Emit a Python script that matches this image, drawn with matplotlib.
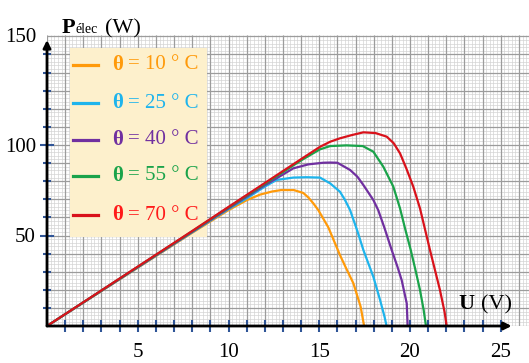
import numpy as np
import matplotlib.pyplot as plt
from matplotlib.patches import Rectangle

plt.rcParams['font.family'] = ['Liberation Serif', 'DejaVu Serif']

# P(U) curves of a solar panel for several temperatures
temps = [10, 25, 40, 55, 70]
colors = ['#FF9A0A', '#1EB4EC', '#7030A0', '#1AA34A', '#D9121B']
text_colors = ['#FF9A0A', '#1EB4EC', '#7030A0', '#1AA34A', '#FF1A1A']

u_10 = [0, 8, 10, 11, 11.74, 12.4, 12.9, 13.6, 14.12, 14.4, 14.67, 14.95,
        15.5, 16.14, 16.5, 16.88, 17.28, 17.47]
p_10 = [0, 51.5, 64, 69.5, 72.6, 74.3, 75.1, 75.1, 73.5, 71, 67.8, 64,
        54.5, 39.2, 31.5, 23.6, 10.7, 0]

u_25 = [0, 8, 10, 11, 12, 12.65, 13.57, 14.3, 15.04, 15.6, 16.14, 16.42,
        16.7, 17.1, 17.43, 17.98, 18.35, 18.6, 18.71]
p_25 = [0, 51.8, 64.6, 70.5, 77, 80.7, 82, 82.2, 82, 78.8, 74.2, 69.6,
        64, 52.5, 42, 27.2, 14.4, 5, 0]

u_40 = [0, 8, 10, 12, 12.8, 13.57, 14.4, 15.22, 15.6, 16.0, 16.7, 17.1,
        17.43, 17.98, 18.25, 18.6, 18.99, 19.3, 19.54, 19.82, 19.87]
p_40 = [0, 52, 65, 77.8, 82.5, 87.1, 89.3, 90.2, 90.3, 90.2, 86.2, 82.5,
        77.9, 69.6, 64, 54, 42, 33, 25.4, 12.5, 0]

u_55 = [0, 8, 10, 12, 13, 14, 15.04, 15.6, 16.5, 17.4, 17.98, 18.53,
        19.08, 19.45, 19.75, 20.04, 20.3, 20.55, 20.75, 20.88]
p_55 = [0, 52.3, 65.5, 78.5, 85, 91.5, 97.6, 99.4, 99.8, 99.4, 96.3, 88,
        77, 65, 53, 42, 31, 19.9, 9, 0]

u_70 = [0, 8, 10, 12, 13, 14, 15.04, 15.6, 16.14, 16.8, 17.43, 18.1,
        18.72, 19.1, 19.45, 19.8, 20.18, 20.55, 21.1, 21.65, 21.9, 22.02]
p_70 = [0, 52.5, 65.8, 79, 85.6, 92.2, 99, 101.8, 103.7, 105.5, 107, 106.6,
        104.6, 101, 95.4, 87, 77, 65, 42, 19.9, 8, 0]

curves = [(u_10, p_10), (u_25, p_25), (u_40, p_40), (u_55, p_55), (u_70, p_70)]

W, H = 529, 363
fig = plt.figure(figsize=(W / 100, H / 100), dpi=100)
ax = fig.add_axes([47 / W, 37 / H, 482 / W, 291 / H])
xmax, ymax = 482 / 18.15, 291 / 1.81
ax.set_xlim(0, xmax)
ax.set_ylim(0, ymax)
for s in ax.spines.values():
    s.set_visible(False)

# graph paper
ax.vlines(np.arange(0, xmax, 0.2), 0, ymax, color='#d4d4d4', lw=0.5, zorder=0)
ax.hlines(np.arange(0, ymax, 2), 0, xmax, color='#d4d4d4', lw=0.5, zorder=0)
ax.vlines(np.arange(0, xmax, 1), 0, ymax, color='#9c9c9c', lw=0.9, zorder=0)
ax.hlines(np.arange(0, ymax, 10), 0, xmax, color='#9c9c9c', lw=0.9, zorder=0)

# legend box
ax.add_patch(Rectangle((1.27, 49.2), 7.55, 104.4, facecolor='#FDF0CC',
                       edgecolor='none', zorder=1))
rows = [144.2, 123.2, 102.8, 82.9, 61.3]
for t, c, tc, y in zip(temps, colors, text_colors, rows):
    ax.plot([1.43, 2.81], [y, y], color=c, lw=2.3, zorder=2)
    ax.text(3.58, y, 'θ', color=tc, fontsize=15, fontweight='bold',
            va='center', ha='left', zorder=2)
    ax.text(4.45, y, f'= {t} ° C', color=tc, fontsize=15,
            va='center', ha='left', zorder=2)

for (u, p), c in zip(curves, colors):
    ax.plot(u, p, color=c, lw=1.6, zorder=3, solid_joinstyle='round')

# axes with arrows
ax.annotate('', xy=(0, 158), xytext=(0, 0), annotation_clip=False,
            arrowprops=dict(arrowstyle='-|>', color='k', lw=2,
                            mutation_scale=11, shrinkA=0, shrinkB=0), zorder=4)
ax.annotate('', xy=(25.6, 0), xytext=(0, 0), annotation_clip=False,
            arrowprops=dict(arrowstyle='-|>', color='k', lw=2,
                            mutation_scale=11, shrinkA=0, shrinkB=0), zorder=4)

tick_col = '#2F5597'
ax.set_xticks([5, 10, 15, 20, 25])
ax.set_xticks(range(1, 26), minor=True)
ax.set_xticklabels(['5', '10', '15', '20', '25'])
ax.set_yticks([50, 100])
ax.set_yticks(range(10, 151, 10), minor=True)
ax.set_yticklabels(['50', '100'])
ax.tick_params(axis='x', which='both', direction='inout', length=8, width=1.5,
               color=tick_col, labelsize=15, pad=8)
ax.tick_params(axis='y', which='minor', direction='inout', length=6, width=1.5,
               color=tick_col)
ax.tick_params(axis='y', which='major', direction='inout', length=10, width=1.5,
               color=tick_col, labelsize=15, pad=3)
for lab in ax.get_xticklabels() + ax.get_yticklabels():
    lab.set_zorder(5)

fig.text(36 / W, 1 - 38 / H, '150', fontsize=15, ha='right', va='center')

# axis titles
fig.text(62 / W, 1 - 33 / H, 'P', fontsize=16, fontweight='bold', va='baseline')
fig.text(76 / W, 1 - 33 / H, 'élec', fontsize=10, va='baseline')
fig.text(105 / W, 1 - 33 / H, '(W)', fontsize=16, va='baseline')
fig.text(458 / W, 1 - 309 / H, 'U', fontsize=16, fontweight='bold', va='baseline')
fig.text(481 / W, 1 - 309 / H, '(V)', fontsize=16, va='baseline')

fig.savefig('out.png', dpi=100)
